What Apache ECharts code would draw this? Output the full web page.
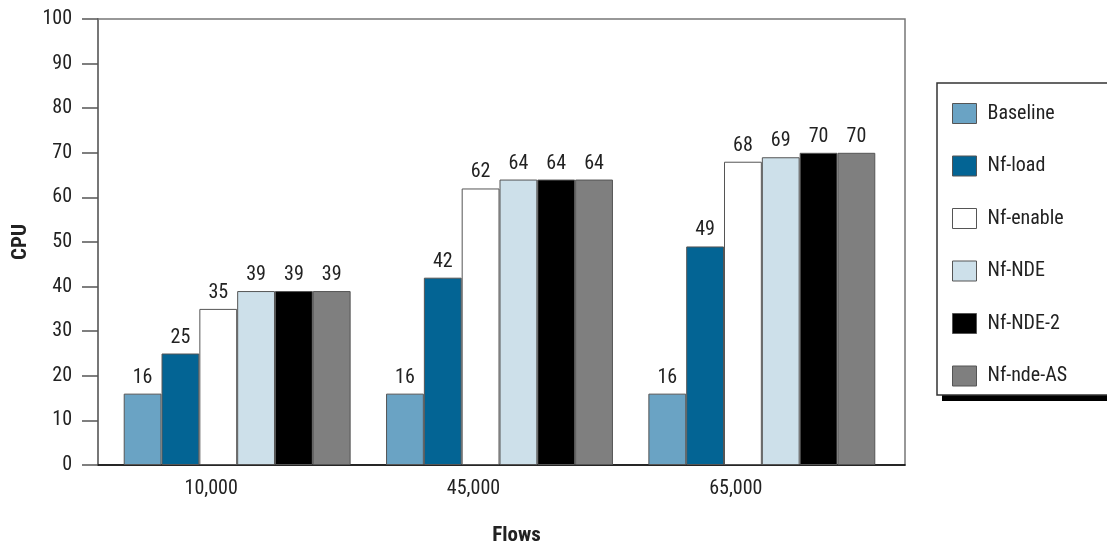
<!DOCTYPE html>
<html>
<head>
<meta charset="utf-8">
<script src="https://cdn.jsdelivr.net/npm/echarts@6/dist/echarts.min.js"></script>
<style>
  html, body { margin: 0; padding: 0; background: #fff; }
  #chart { width: 1107px; height: 549px; }
</style>
</head>
<body>
<div id="chart"></div>
<script>
// CPU load by number of flows, per configuration
const categories = ['10,000', '45,000', '65,000'];
const seriesNames = ['Baseline', 'Nf-load', 'Nf-enable', 'Nf-NDE', 'Nf-NDE-2', 'Nf-nde-AS'];
const baseline = [16, 16, 16];
const nfLoad = [25, 42, 49];
const nfEnable = [35, 62, 68];
const nfNde = [39, 64, 69];
const nfNde2 = [39, 64, 70];
const nfNdeAs = [39, 64, 70];
const yTicks = [0, 10, 20, 30, 40, 50, 60, 70, 80, 90, 100];

const seriesValues = [baseline, nfLoad, nfEnable, nfNde, nfNde2, nfNdeAs];
const colors = ['#6aa3c4', '#036494', '#ffffff', '#cde0ea', '#000000', '#7f7f7f'];

const FONT = "'Roboto Condensed', 'Liberation Sans Narrow', Roboto, 'Liberation Sans', sans-serif";

const chart = echarts.init(document.getElementById('chart'), null, { renderer: 'canvas' });

const series = seriesNames.map((name, i) => ({
  name: name,
  type: 'bar',
  xAxisIndex: 1,
  yAxisIndex: 1,
  data: seriesValues[i],
  barGap: '0%',
  barCategoryGap: '13.5%',
  itemStyle: { color: colors[i], borderColor: '#555', borderWidth: 1 },
  label: {
    show: true,
    position: 'top',
    distance: 6,
    color: '#222',
    fontFamily: FONT,
    fontSize: 20
  },
  emphasis: { disabled: true }
}));

chart.setOption({
  animation: false,
  backgroundColor: '#fff',
  textStyle: { fontFamily: FONT },
  grid: [
    { left: 98, top: 19, right: 202, bottom: 84, outerBoundsMode: 'none', containLabel: false,
      show: true, borderColor: '#777', borderWidth: 1.5, backgroundColor: 'transparent' },
    { left: 106, top: 19, right: 214, bottom: 84, outerBoundsMode: 'none', containLabel: false }
  ],
  // legend frame with a solid drop shadow
  graphic: [
    { type: 'rect', z: 0, shape: { x: 942, y: 88, width: 200, height: 313 }, style: { fill: '#000' }, silent: true },
    { type: 'rect', z: 1, shape: { x: 937, y: 83, width: 200, height: 312 }, style: { fill: '#fff', stroke: '#333', lineWidth: 1.5 }, silent: true }
  ],
  legend: {
    data: seriesNames,
    orient: 'vertical',
    left: 937,
    top: 83,
    z: 5,
    padding: [20, 40, 18, 15],
    itemWidth: 24,
    itemHeight: 20,
    itemGap: 31.5,
    icon: 'rect',
    itemStyle: { borderColor: '#555', borderWidth: 1 },
    textStyle: { fontFamily: FONT, fontSize: 20, color: '#222', padding: [0, 0, 0, 6] },
    selectedMode: false
  },
  xAxis: [
    {
      gridIndex: 0,
      type: 'category',
      data: categories,
      axisLine: { show: true, lineStyle: { color: '#000', width: 1.5 } },
      axisTick: { show: false },
      axisLabel: { show: false },
      name: 'Flows',
      nameLocation: 'middle',
      nameGap: 60,
      nameTextStyle: { fontFamily: FONT, fontSize: 21, fontWeight: 'bold', color: '#222', padding: [0, 0, 0, 30] }
    },
    {
      gridIndex: 1,
      type: 'category',
      data: categories,
      axisLine: { show: false },
      axisTick: { show: false },
      axisLabel: { show: true, margin: 14, color: '#222', fontFamily: FONT, fontSize: 20, padding: [0, 52, 0, 0] }
    }
  ],
  yAxis: [
    {
      gridIndex: 0,
      type: 'value',
      min: 0,
      max: 100,
      interval: 10,
      axisLine: { show: true, lineStyle: { color: '#777', width: 2 } },
      axisTick: { show: true, length: 16, lineStyle: { color: '#555', width: 1.5 } },
      splitLine: { show: false },
      axisLabel: {
        margin: 26,
        color: '#222',
        fontFamily: FONT,
        fontSize: 20,
        formatter: v => (yTicks.includes(v) ? String(v) : '')
      },
      name: 'CPU',
      nameLocation: 'middle',
      nameGap: 66,
      nameTextStyle: { fontFamily: FONT, fontSize: 21, fontWeight: 'bold', color: '#222' }
    },
    {
      gridIndex: 1,
      type: 'value',
      min: 0,
      max: 100,
      interval: 10,
      show: false,
      splitLine: { show: false }
    }
  ],
  series: series
});
</script>
</body>
</html>
